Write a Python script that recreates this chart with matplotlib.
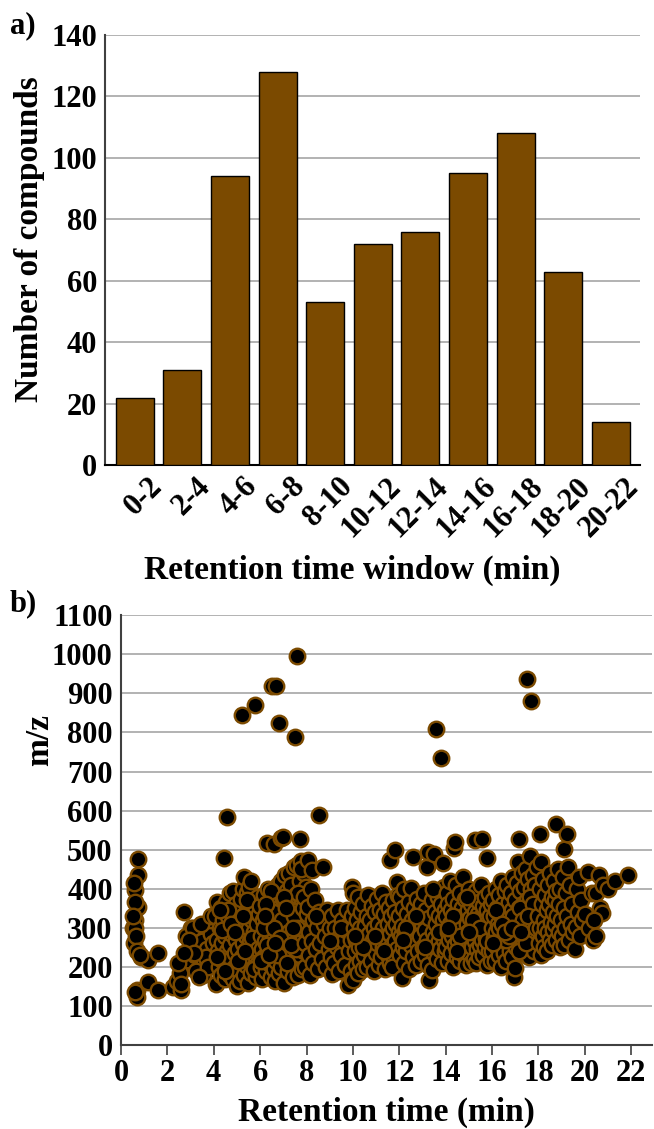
import numpy as np
import matplotlib
matplotlib.use("Agg")
import matplotlib.pyplot as plt
import matplotlib.transforms as mtransforms

plt.rcParams['font.family'] = ['Liberation Serif', 'DejaVu Serif']
plt.rcParams['font.weight'] = 'bold'

# panel a) compounds per retention time window
windows = ["0-2", "2-4", "4-6", "6-8", "8-10", "10-12", "12-14",
           "14-16", "16-18", "18-20", "20-22"]
counts = [22, 31, 94, 128, 53, 72, 76, 95, 108, 63, 14]

# panel b) retention time (min) and m/z, read off the picture window by window
rt_0_2 = [0.75, 0.73, 0.61, 0.55, 0.73, 0.61, 0.5, 0.61, 0.55, 0.66, 0.7, 0.87,
          1.16, 1.59, 0.68, 0.68, 0.62, 1.18, 1.59, 0.6, 0.52, 0.8]
mz_0_2 = [477, 435, 396, 415, 354, 320, 300, 299, 260, 280, 240, 226,
          217, 236, 141, 124, 135, 162, 141, 365, 330, 230]

rt_2_4 = [2.26, 2.57, 2.4, 2.54, 2.73, 2.9, 3.04, 2.45, 2.6, 2.8, 3.1, 3.3, 3.5,
          3.2, 3.4, 3.6, 3.8, 3.9, 3.7, 3.55, 3.25, 2.95, 3.85, 3.45, 3.65, 3.15,
          3.75, 3.95, 2.7, 3.35, 3.9]
mz_2_4 = [149, 141, 165, 184, 341, 217, 299, 210, 155, 280, 300, 250, 265,
          230, 195, 210, 300, 285, 245, 180, 190, 270, 320, 310, 225, 235,
          200, 260, 235, 175, 330]

pts_4_6 = [(4.05, 330), (4.1, 155), (4.12, 270), (4.15, 365), (4.2, 240), (4.22, 200), (4.25, 300), (4.3, 180), (4.3, 350), (4.35, 260),
           (4.4, 215), (4.42, 320), (4.45, 478), (4.48, 170), (4.5, 280), (4.52, 365), (4.55, 240), (4.58, 583), (4.6, 195), (4.62, 330),
           (4.65, 300), (4.68, 180), (4.7, 255), (4.72, 390), (4.75, 220), (4.78, 340), (4.8, 285), (4.82, 170), (4.85, 395), (4.88, 310),
           (4.9, 235), (4.92, 200), (4.95, 360), (4.98, 270), (5.0, 320), (5.02, 150), (5.05, 245), (5.08, 345), (5.1, 190), (5.12, 290),
           (5.15, 165), (5.18, 375), (5.2, 845), (5.2, 225), (5.22, 310), (5.25, 260), (5.28, 400), (5.3, 180), (5.32, 430), (5.35, 335),
           (5.38, 205), (5.4, 280), (5.42, 390), (5.45, 240), (5.48, 160), (5.5, 405), (5.5, 300), (5.52, 350), (5.55, 215), (5.58, 265),
           (5.6, 420), (5.62, 185), (5.65, 320), (5.68, 250), (5.7, 370), (5.72, 200), (5.75, 290), (5.78, 340), (5.8, 870), (5.8, 230),
           (5.82, 175), (5.85, 310), (5.88, 265), (5.9, 380), (5.92, 210), (5.95, 335), (4.35, 295), (4.6, 345), (4.75, 310), (5.05, 215),
           (5.25, 330), (5.45, 370), (5.65, 275), (5.9, 245), (4.15, 225), (4.5, 190), (4.9, 290), (5.35, 240), (5.75, 195), (4.25, 345)]

pts_6_8 = [(6.0, 355), (6.02, 200), (6.05, 280), (6.08, 245), (6.1, 170), (6.12, 320), (6.15, 385), (6.18, 225), (6.2, 300), (6.22, 265),
           (6.25, 190), (6.28, 518), (6.3, 345), (6.32, 240), (6.35, 400), (6.38, 210), (6.4, 310), (6.42, 275), (6.45, 175), (6.48, 360),
           (6.5, 918), (6.5, 230), (6.52, 330), (6.55, 290), (6.58, 195), (6.6, 515), (6.6, 380), (6.62, 255), (6.65, 165), (6.68, 340),
           (6.7, 918), (6.7, 215), (6.72, 300), (6.75, 410), (6.78, 270), (6.8, 825), (6.8, 185), (6.82, 350), (6.85, 240), (6.88, 320),
           (6.9, 530), (6.9, 420), (6.92, 200), (6.95, 285), (6.98, 375), (7.0, 533), (7.0, 250), (7.02, 160), (7.05, 335), (7.08, 435),
           (7.1, 225), (7.12, 300), (7.15, 395), (7.18, 265), (7.2, 190), (7.22, 350), (7.25, 440), (7.28, 240), (7.3, 315), (7.32, 205),
           (7.35, 410), (7.38, 280), (7.4, 175), (7.42, 360), (7.45, 455), (7.48, 250), (7.5, 788), (7.5, 330), (7.52, 215), (7.55, 385),
           (7.58, 295), (7.6, 997), (7.6, 460), (7.62, 180), (7.65, 345), (7.68, 265), (7.7, 527), (7.7, 420), (7.72, 230), (7.75, 310),
           (7.78, 470), (7.8, 195), (7.82, 375), (7.85, 280), (7.88, 440), (7.9, 240), (7.92, 330), (7.95, 200), (7.98, 405), (7.99, 290),
           (6.15, 300), (6.3, 255), (6.45, 395), (6.55, 340), (6.75, 230), (6.95, 320), (7.15, 210), (7.25, 290), (7.45, 330), (7.55, 245),
           (7.65, 390), (7.85, 350), (6.05, 215), (6.25, 360), (6.4, 230), (6.6, 300), (6.85, 275), (7.05, 380), (7.35, 255), (7.6, 300),
           (7.75, 450), (7.95, 260), (6.2, 330), (6.65, 260), (7.1, 350), (7.4, 300), (7.9, 380)]

pts_8_10 = [(8.02, 335), (8.05, 354), (8.05, 473), (8.1, 230), (8.12, 290), (8.15, 180), (8.18, 400), (8.22, 448), (8.25, 265), (8.28, 320),
            (8.3, 210), (8.35, 370), (8.4, 245), (8.45, 300), (8.5, 195), (8.55, 588), (8.55, 340), (8.6, 260), (8.65, 220), (8.72, 456),
            (8.75, 310), (8.8, 280), (8.85, 200), (8.9, 345), (8.95, 245), (9.0, 300), (9.05, 225), (9.08, 183), (9.1, 330), (9.15, 270),
            (9.2, 210), (9.25, 300), (9.3, 250), (9.35, 345), (9.4, 190), (9.45, 280), (9.5, 230), (9.55, 320), (9.6, 265), (9.65, 205),
            (9.7, 295), (9.75, 345), (9.8, 153), (9.82, 240), (9.85, 310), (9.9, 190), (9.92, 270), (9.95, 330), (9.97, 170), (9.98, 405),
            (8.4, 330), (9.0, 265), (9.5, 300)]

pts_10_12 = [(10.0, 390), (10.02, 167), (10.05, 300), (10.08, 240), (10.1, 350), (10.12, 205), (10.15, 270), (10.18, 320), (10.2, 185), (10.22, 380),
             (10.25, 250), (10.3, 300), (10.32, 215), (10.35, 340), (10.4, 275), (10.42, 195), (10.45, 360), (10.5, 230), (10.52, 305), (10.55, 260),
             (10.6, 330), (10.62, 200), (10.66, 383), (10.7, 285), (10.72, 240), (10.75, 320), (10.8, 215), (10.82, 355), (10.85, 270), (10.9, 190),
             (10.92, 300), (10.95, 340), (11.0, 235), (11.02, 375), (11.05, 260), (11.1, 310), (11.12, 205), (11.15, 345), (11.2, 280), (11.22, 225),
             (11.25, 390), (11.3, 300), (11.32, 250), (11.35, 335), (11.4, 195), (11.42, 365), (11.45, 270), (11.5, 310), (11.52, 230), (11.55, 350),
             (11.6, 473), (11.6, 285), (11.62, 210), (11.65, 330), (11.7, 255), (11.72, 370), (11.75, 300), (11.78, 220), (11.8, 499), (11.8, 340),
             (11.82, 265), (11.85, 200), (11.88, 310), (11.9, 418), (11.92, 245), (11.95, 385), (11.97, 290), (10.45, 250), (10.95, 280), (11.35, 240),
             (11.7, 200), (10.1, 280)]

pts_12_14 = [(12.0, 330), (12.02, 230), (12.05, 380), (12.08, 280), (12.1, 171), (12.12, 305), (12.15, 250), (12.18, 350), (12.2, 210), (12.22, 400),
             (12.25, 290), (12.3, 240), (12.32, 335), (12.35, 270), (12.4, 195), (12.42, 365), (12.45, 310), (12.5, 401), (12.52, 255), (12.55, 320),
             (12.6, 482), (12.6, 225), (12.62, 290), (12.65, 350), (12.7, 265), (12.72, 205), (12.75, 375), (12.8, 300), (12.82, 240), (12.85, 340),
             (12.9, 280), (12.92, 215), (12.95, 360), (13.0, 310), (13.02, 250), (13.05, 390), (13.1, 295), (13.12, 230), (13.15, 345), (13.2, 456),
             (13.2, 270), (13.25, 494), (13.25, 205), (13.3, 167), (13.3, 325), (13.35, 255), (13.4, 192), (13.4, 370), (13.45, 290), (13.5, 490),
             (13.5, 235), (13.52, 340), (13.55, 275), (13.6, 808), (13.6, 310), (13.62, 220), (13.65, 380), (13.7, 265), (13.72, 330), (13.75, 245),
             (13.8, 735), (13.8, 295), (13.82, 360), (13.85, 210), (13.9, 465), (13.9, 320), (13.92, 270), (13.95, 405), (13.97, 240), (13.98, 345),
             (12.3, 300), (12.7, 330), (13.1, 250), (13.45, 400), (13.7, 290), (12.15, 270)]

pts_14_16 = [(14.0, 330), (14.02, 250), (14.05, 390), (14.08, 290), (14.1, 215), (14.12, 360), (14.15, 270), (14.18, 420), (14.2, 310), (14.22, 235),
             (14.25, 345), (14.28, 280), (14.3, 200), (14.32, 375), (14.35, 504), (14.35, 300), (14.4, 520), (14.4, 255), (14.42, 335), (14.45, 410),
             (14.48, 225), (14.5, 290), (14.52, 360), (14.55, 265), (14.58, 320), (14.6, 215), (14.62, 390), (14.65, 300), (14.68, 245), (14.7, 350),
             (14.72, 280), (14.75, 430), (14.78, 230), (14.8, 330), (14.82, 270), (14.85, 375), (14.88, 205), (14.9, 310), (14.92, 255), (14.95, 345),
             (14.98, 290), (15.0, 400), (15.02, 235), (15.05, 325), (15.08, 270), (15.1, 209), (15.1, 360), (15.12, 300), (15.15, 250), (15.18, 385),
             (15.2, 280), (15.22, 220), (15.26, 524), (15.25, 340), (15.28, 265), (15.3, 209), (15.3, 310), (15.32, 395), (15.35, 245), (15.38, 335),
             (15.4, 285), (15.42, 225), (15.45, 365), (15.48, 300), (15.5, 255), (15.52, 410), (15.55, 330), (15.55, 528), (15.58, 270), (15.6, 230),
             (15.62, 355), (15.65, 295), (15.68, 380), (15.7, 250), (15.72, 320), (15.77, 479), (15.75, 275), (15.78, 205), (15.8, 345), (15.82, 300),
             (15.85, 240), (15.88, 390), (15.9, 265), (15.92, 330), (15.95, 215), (15.97, 360), (14.3, 330), (14.6, 280), (14.9, 380), (15.2, 320),
             (15.5, 300), (15.8, 265), (14.1, 300), (14.5, 240), (15.0, 290)]

pts_16_18 = [(16.0, 300), (16.02, 240), (16.05, 370), (16.08, 275), (16.1, 330), (16.12, 215), (16.15, 400), (16.18, 290), (16.2, 250), (16.22, 350),
             (16.25, 310), (16.28, 230), (16.3, 385), (16.32, 270), (16.35, 335), (16.38, 200), (16.4, 420), (16.42, 295), (16.45, 255), (16.48, 360),
             (16.5, 320), (16.52, 235), (16.55, 395), (16.58, 280), (16.6, 340), (16.62, 215), (16.65, 410), (16.68, 300), (16.7, 260), (16.72, 365),
             (16.75, 325), (16.78, 240), (16.8, 390), (16.82, 285), (16.85, 345), (16.88, 225), (16.9, 430), (16.92, 305), (16.95, 175), (16.98, 196),
             (16.98, 265), (17.0, 370), (17.02, 330), (17.05, 250), (17.08, 415), (17.1, 290), (17.13, 469), (17.15, 350), (17.17, 528), (17.18, 270),
             (17.2, 395), (17.22, 315), (17.25, 235), (17.28, 440), (17.3, 300), (17.32, 360), (17.35, 255), (17.38, 405), (17.4, 330), (17.42, 280),
             (17.45, 450), (17.48, 310), (17.5, 938), (17.5, 370), (17.52, 245), (17.55, 425), (17.58, 295), (17.6, 226), (17.6, 350), (17.63, 484),
             (17.65, 275), (17.68, 400), (17.7, 880), (17.7, 320), (17.72, 260), (17.75, 435), (17.78, 300), (17.8, 365), (17.82, 240), (17.85, 410),
             (17.88, 285), (17.9, 345), (17.92, 455), (17.95, 310), (17.97, 380), (17.99, 265), (16.3, 300), (16.6, 270), (16.9, 330), (17.2, 350),
             (17.5, 290), (17.8, 330), (16.15, 345), (16.45, 310), (16.75, 280), (17.05, 300), (17.35, 320), (17.65, 380), (17.95, 350), (16.05, 260),
             (16.55, 290), (17.15, 240), (17.45, 260), (17.75, 360), (16.85, 300), (17.25, 290), (17.55, 330), (17.9, 300)]

pts_18_20 = [(18.0, 330), (18.02, 260), (18.06, 540), (18.05, 400), (18.08, 300), (18.1, 469), (18.12, 230), (18.15, 360), (18.18, 280), (18.2, 425),
             (18.22, 320), (18.25, 250), (18.28, 385), (18.3, 300), (18.35, 345), (18.38, 240), (18.4, 410), (18.42, 290), (18.45, 360), (18.5, 270),
             (18.52, 440), (18.55, 315), (18.58, 380), (18.6, 255), (18.62, 340), (18.65, 295), (18.68, 420), (18.7, 370), (18.72, 310), (18.75, 565),
             (18.75, 270), (18.78, 395), (18.8, 330), (18.85, 450), (18.88, 290), (18.9, 360), (18.92, 250), (18.95, 400), (18.98, 320), (19.0, 280),
             (19.05, 430), (19.1, 503), (19.1, 256), (19.12, 350), (19.15, 300), (19.2, 390), (19.24, 541), (19.25, 330), (19.28, 456), (19.3, 270),
             (19.35, 410), (19.4, 310), (19.45, 360), (19.5, 290), (19.57, 245), (19.6, 303), (19.65, 400), (19.7, 340), (19.75, 430), (19.8, 280),
             (19.85, 370), (19.9, 320), (20.0, 335)]

pts_20_22 = [(20.14, 443), (20.2, 300), (20.3, 390), (20.35, 270), (20.5, 388), (20.5, 279), (20.6, 435), (20.65, 350), (20.76, 338), (20.8, 410),
             (21.0, 400), (21.3, 420), (21.87, 435), (20.4, 320)]

rt = list(rt_0_2) + list(rt_2_4)
mz = list(mz_0_2) + list(mz_2_4)
for pts in [pts_4_6, pts_6_8, pts_8_10, pts_10_12, pts_12_14, pts_14_16,
            pts_16_18, pts_18_20, pts_20_22]:
    rt += [p[0] for p in pts]
    mz += [p[1] for p in pts]

brown = "#7B4A00"
grid_col = "#A6A6A6"
TICK = 22
LAB = 24

fig = plt.figure(figsize=(6.54, 11.29), dpi=100)

# ---- a) bar chart
ax1 = fig.add_axes([0.161, 0.588, 0.818, 0.381])
x = np.arange(len(windows))
ax1.bar(x, counts, width=0.8, color=brown, edgecolor="black", linewidth=1.0, zorder=3)
ax1.set_xlim(-0.62, len(windows) - 0.38)
ax1.set_ylim(0, 140)
ax1.set_yticks(range(0, 141, 20))
ax1.yaxis.grid(True, color=grid_col, linewidth=1.2, zorder=0)
ax1.set_xticks(x)
ax1.set_xticklabels(windows, rotation=45, ha="right", rotation_mode="anchor")
ax1.tick_params(axis="both", length=0, labelsize=TICK, pad=6)
ax1.tick_params(axis="x", pad=5)
# nudge the slanted labels a little to the right, as in the original
shift = mtransforms.ScaledTranslation(0.13, 0, fig.dpi_scale_trans)
for lbl in ax1.get_xticklabels():
    lbl.set_transform(lbl.get_transform() + shift)
for s in ["top", "right"]:
    ax1.spines[s].set_visible(False)
ax1.spines["left"].set_color("#404040")
ax1.spines["bottom"].set_color("black")
ax1.spines["left"].set_linewidth(1.5)
ax1.spines["bottom"].set_linewidth(1.5)
ax1.set_ylabel("Number of compounds", fontsize=LAB, fontweight="bold")
ax1.set_xlabel("Retention time window (min)", fontsize=LAB, fontweight="bold")
ax1.xaxis.set_label_coords(0.462, -0.265)
ax1.xaxis.label.set_va("baseline")
ax1.yaxis.set_label_coords(-0.112, 0.525)
fig.text(0.015, 0.977, "a)", fontsize=TICK, fontweight="bold", va="center")

# ---- b) scatter
ax2 = fig.add_axes([0.185, 0.0744, 0.812, 0.3806])
ax2.scatter(rt, mz, s=125, color="black", edgecolor=brown, linewidth=1.7, zorder=3)
ax2.set_xlim(0, 22.9)
ax2.set_ylim(0, 1100)
ax2.set_xticks(range(0, 23, 2))
ax2.set_yticks(range(0, 1101, 100))
ax2.yaxis.grid(True, color=grid_col, linewidth=1.2, zorder=0)
ax2.tick_params(axis="both", labelsize=TICK)
ax2.tick_params(axis="x", direction="out", length=7, width=1.2, color="#404040", pad=3)
ax2.tick_params(axis="y", length=0, pad=6)
for s in ["top", "right"]:
    ax2.spines[s].set_visible(False)
ax2.spines["left"].set_color("#404040")
ax2.spines["bottom"].set_color("#404040")
ax2.spines["left"].set_linewidth(1.5)
ax2.spines["bottom"].set_linewidth(1.5)
ax2.set_ylabel("m/z", fontsize=LAB, fontweight="bold")
ax2.set_xlabel("Retention time (min)", fontsize=LAB, fontweight="bold")
ax2.xaxis.set_label_coords(0.5, -0.176)
ax2.xaxis.label.set_va("baseline")
ax2.yaxis.set_label_coords(-0.124, 0.71)
fig.text(0.015, 0.465, "b)", fontsize=TICK, fontweight="bold", va="center")

fig.savefig("out.png", dpi=100)
